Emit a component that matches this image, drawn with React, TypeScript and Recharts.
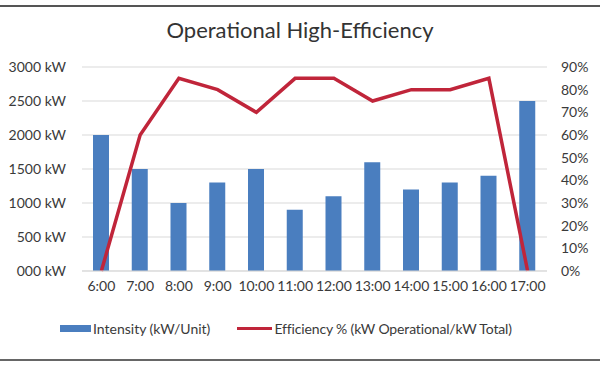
import { ComposedChart, Bar, Line, XAxis, YAxis, CartesianGrid } from "recharts";

const hours = ["6:00", "7:00", "8:00", "9:00", "10:00", "11:00", "12:00", "13:00", "14:00", "15:00", "16:00", "17:00"];
const intensityKw = [2000, 1500, 1000, 1300, 1500, 900, 1100, 1600, 1200, 1300, 1400, 2500];
const efficiencyPct = [0, 60, 85, 80, 70, 85, 85, 75, 80, 80, 85, 0];
const kwTicks = [0, 500, 1000, 1500, 2000, 2500, 3000];
const pctTicks = [0, 10, 20, 30, 40, 50, 60, 70, 80, 90];

const BLUE = "#4a7ebf";
const RED = "#c0253a";
const FONT = "Lato, 'Noto Sans', sans-serif";

const data = hours.map((hour, i) => ({
  hour,
  intensity: intensityKw[i],
  efficiency: efficiencyPct[i],
}));

export default function App() {
  const tick = { fill: "#3a3a3a", fontSize: 14, fontFamily: FONT };
  return (
    <div style={{ position: "absolute", left: 0, top: 0, width: 600, height: 367, background: "#fff", fontFamily: FONT }}>
      <div style={{ position: "absolute", left: 0, top: 5, width: 600, height: 2, background: "#555" }} />
      <div style={{ position: "absolute", left: 0, top: 359, width: 600, height: 2, background: "#666" }} />
      <div style={{ position: "absolute", left: 0, top: 16, width: 600, textAlign: "center", fontSize: 22, color: "#333" }}>
        Operational High-Efficiency
      </div>

      <div style={{ position: "absolute", left: 0, top: 0 }}>
        <ComposedChart width={600} height={300} data={data} margin={{ top: 67, right: 0, bottom: 0, left: 0 }}>
          <CartesianGrid yAxisId="kw" vertical={false} stroke="#d9d9d9" />
          <XAxis dataKey="hour" height={29} tick={tick} tickLine={false} axisLine={{ stroke: "#d9d9d9" }} tickMargin={4} interval={0} />
          <YAxis
            yAxisId="kw"
            width={82}
            domain={[0, 3000]}
            ticks={kwTicks}
            tick={tick}
            tickLine={false}
            axisLine={false}
            tickMargin={10}
            tickFormatter={(v: number) => (v === 0 ? "000 kW" : `${v} kW`)}
          />
          <YAxis
            yAxisId="pct"
            orientation="right"
            width={53}
            domain={[0, 90]}
            ticks={pctTicks}
            tick={tick}
            tickLine={false}
            axisLine={false}
            tickMargin={8}
            tickFormatter={(v: number) => `${v}%`}
          />
          <Bar yAxisId="kw" dataKey="intensity" fill={BLUE} barSize={16} isAnimationActive={false} />
          <Line yAxisId="pct" type="linear" dataKey="efficiency" stroke={RED} strokeWidth={3.5} dot={false} isAnimationActive={false} />
        </ComposedChart>
      </div>

      <div style={{ position: "absolute", left: 60, top: 320, display: "flex", alignItems: "center", fontSize: 14, color: "#3a3a3a", whiteSpace: "nowrap" }}>
        <span style={{ display: "inline-block", width: 31, height: 7, background: BLUE, marginRight: 2 }} />
        <span>Intensity (kW/Unit)</span>
        <span style={{ display: "inline-block", width: 35, height: 3, background: RED, marginLeft: 27, marginRight: 2 }} />
        <span style={{ letterSpacing: -0.15 }}>Efficiency % (kW Operational/kW Total)</span>
      </div>
    </div>
  );
}
